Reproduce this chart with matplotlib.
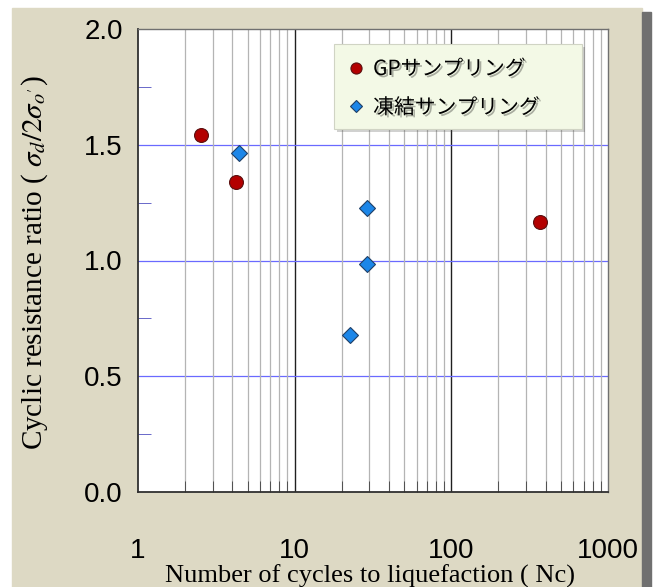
import matplotlib.pyplot as plt
import matplotlib.patches as mpatches
import matplotlib.patheffects as pe
from matplotlib.ticker import FixedLocator, NullFormatter, LogLocator

# data
gp_cycles = [2.53, 4.23, 370]
gp_ratio = [1.54, 1.34, 1.165]
frozen_cycles = [4.43, 28.9, 28.9, 22.7]
frozen_ratio = [1.465, 1.225, 0.985, 0.68]

x_ticks = [1, 10, 100, 1000]
x_tick_labels = ["1", "10", "100", "1000"]
y_ticks = [0.0, 0.5, 1.0, 1.5, 2.0]

plt.rcParams['mathtext.fontset'] = 'stix'

W, H = 653, 587
fig = plt.figure(figsize=(6.53, 5.87), dpi=100, facecolor='white')

# beige panel with a dark shadow on the right
fig.patches.append(mpatches.Rectangle((12 / W, 0), 630 / W, 1 - 8 / H,
                                      transform=fig.transFigure, color='#ddd9c4', zorder=-2))
fig.patches.append(mpatches.Rectangle((642 / W, 0), 9 / W, 1 - 12 / H,
                                      transform=fig.transFigure, color='#707070', zorder=-2))

ax = fig.add_axes([138 / W, 1 - 492 / H, 470 / W, 463 / H])
ax.set_facecolor('white')
ax.set_xscale('log')
ax.set_xlim(1, 1000)
ax.set_ylim(0, 2.0)

# grid lines
ax.xaxis.set_minor_locator(LogLocator(base=10, subs=range(2, 10)))
ax.xaxis.set_minor_formatter(NullFormatter())
ax.grid(True, which='minor', axis='x', color='#b4b4b4', linewidth=0.9)
for v in [10, 100]:
    ax.axvline(v, color='#202020', linewidth=1.0, zorder=1)
for v in [0.5, 1.0, 1.5]:
    ax.axhline(v, color='#6a6aff', linewidth=0.9, zorder=1)

ax.set_xticks(x_ticks)
ax.set_xticklabels(x_tick_labels, family=['Liberation Sans Narrow', 'Liberation Sans'], fontsize=20)
ax.set_yticks(y_ticks)
ax.set_yticklabels([f"{v:.1f}" for v in y_ticks],
                   family=['Liberation Sans Narrow', 'Liberation Sans'], fontsize=20)
ax.yaxis.set_minor_locator(FixedLocator([0.25, 0.75, 1.25, 1.75]))
ax.tick_params(axis='x', which='major', length=0, pad=33)
ax.tick_params(axis='y', which='major', length=0, pad=11)
ax.tick_params(axis='x', which='minor', direction='in', length=8, color='#404040')
ax.tick_params(axis='y', which='minor', direction='in', length=9, color='#5050c0')

for s in ['left', 'bottom']:
    ax.spines[s].set_color('#303030')
    ax.spines[s].set_linewidth(1.3)
for s in ['top', 'right']:
    ax.spines[s].set_color('#707070')
    ax.spines[s].set_linewidth(1.0)

ax.plot(gp_cycles, gp_ratio, linestyle='none', marker='o', markersize=10,
        markerfacecolor='#b30000', markeredgecolor='#5a1010', markeredgewidth=0.8,
        label='GPサンプリング', zorder=3)
ax.plot(frozen_cycles, frozen_ratio, linestyle='none', marker='D', markersize=8,
        markerfacecolor='#1c86e8', markeredgecolor='#1f3f66', markeredgewidth=0.8,
        label='凍結サンプリング', zorder=3)

# axis titles
fig.text(370 / W, 1 - 583 / H, "Number of cycles to liquefaction ( Nc)",
         family='Liberation Serif', fontsize=19, ha='center', va='baseline')
fig.text(35 / W, 1 - 263 / H, r"Cyclic resistance ratio ( $\sigma_{d}/2\sigma_{o'}$)",
         family='Liberation Serif', fontsize=21, ha='center', va='center', rotation=90)

# legend box
ax.add_patch(mpatches.Rectangle(((334 - 138) / 470, (492 - 129) / 463), 248 / 470, 85 / 463,
                                transform=ax.transAxes, facecolor='#f3f9e6', edgecolor='#d0d4c4',
                                linewidth=0.8, zorder=4,
                                path_effects=[pe.SimplePatchShadow(offset=(2, -2), alpha=0.25),
                                              pe.Normal()]))
leg = ax.legend(loc='upper left', bbox_to_anchor=((346 - 138) / 470, (492 - 58) / 463), frameon=False,
                prop={'family': ['Noto Sans CJK JP', 'DejaVu Sans'], 'size': 15},
                handletextpad=0.3, handlelength=1.0, borderpad=0, labelspacing=0.8,
                borderaxespad=0, markerscale=0.8)
leg.set_zorder(5)
for t in leg.get_texts():
    t.set_path_effects([pe.withSimplePatchShadow(offset=(1.5, -1.5), alpha=0.3)])

fig.savefig('out.png', dpi=100, facecolor=fig.get_facecolor())
